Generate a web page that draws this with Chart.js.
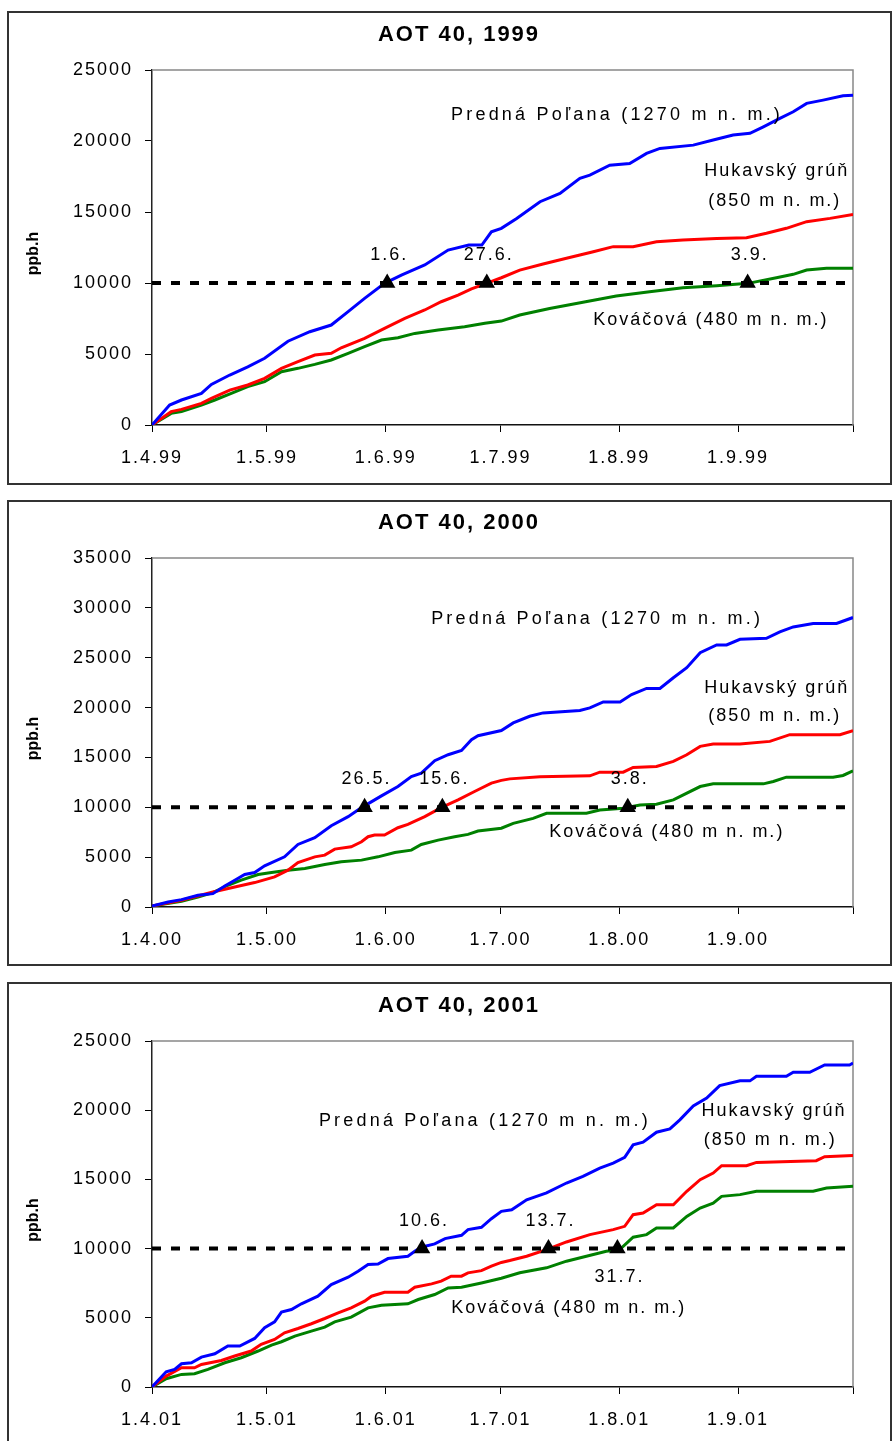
<!DOCTYPE html>
<html>
<head>
<script src="https://cdn.jsdelivr.net/npm/chart.js"></script>
<style>
  body { margin: 0; background: #fff; width: 893px; height: 1441px; overflow: hidden; position: relative; }
  .panel { position: absolute; left: 7px; width: 885px; border: 2px solid #333; box-sizing: border-box; }
  canvas { position: absolute; left: 9px; }
</style>
</head>
<body>
<div class="panel" style="top:11px;height:474px"></div>
<div class="panel" style="top:500px;height:466px"></div>
<div class="panel" style="top:982px;height:480px"></div>
<canvas id="c1999" width="882" height="469" style="top:13px"></canvas>
<canvas id="c2000" width="882" height="462" style="top:502px"></canvas>
<canvas id="c2001" width="882" height="457" style="top:984px"></canvas>

<script>
// days counted from 1 April, month starts for the x axis
const MONTH_DAYS = [0, 30, 61, 91, 122, 153, 183];
const TICKS_1999 = ['1.4.99', '1.5.99', '1.6.99', '1.7.99', '1.8.99', '1.9.99', ''];
const TICKS_2000 = ['1.4.00', '1.5.00', '1.6.00', '1.7.00', '1.8.00', '1.9.00', ''];
const TICKS_2001 = ['1.4.01', '1.5.01', '1.6.01', '1.7.01', '1.8.01', '1.9.01', ''];
const THRESHOLD = 10000;

// [day, ppb.h]
const PREDNA_1999 = [[0,0],[4.6,1400],[7.7,1760],[12.9,2230],[15.5,2860],[20.3,3520],[25,4100],[29.4,4700],[35.5,5900],[41.2,6570],[46.8,7040],[51.2,7980],[55.5,8920],[60.7,9975],[65.1,10560],[71.2,11270],[77.3,12320],[82.7,12670],[86.1,12670],[88.6,13600],[91.2,13850],[95.2,14550],[101.3,15725],[106.5,16310],[111.7,17370],[114.3,17600],[119.5,18300],[124.7,18420],[129.1,19130],[132.6,19480],[141.3,19710],[146.5,20070],[151.7,20420],[156.1,20540],[159.6,21000],[163.9,21590],[167.4,22060],[170.9,22650],[175.2,22880],[180.4,23190],[183,23230]];
const HUKAVSKY_1999 = [[0,0],[5,940],[7.7,1100],[12.9,1525],[15.5,1880],[20.3,2460],[25,2820],[29.4,3290],[33.8,3990],[38.1,4460],[42.5,4930],[46.8,5050],[49.4,5440],[55.5,6100],[60.7,6800],[66,7510],[71.2,8100],[75.5,8680],[79.9,9150],[83.4,9580],[87.3,9975],[91.2,10370],[96,10910],[102.1,11340],[108.2,11740],[115.2,12200],[120.4,12560],[125.6,12560],[131.7,12910],[138.6,13030],[147.4,13140],[155.2,13190],[160.4,13500],[165.6,13850],[170.9,14320],[177,14550],[183,14830]];
const KOVACOVA_1999 = [[0,0],[5,820],[7.7,940],[12.9,1410],[16.4,1760],[20.7,2230],[25,2700],[29.4,3050],[33.8,3755],[38.1,3990],[42.5,4270],[46.8,4580],[51.2,5050],[55.5,5515],[59.9,5985],[64.2,6150],[68.6,6450],[74.7,6690],[81.6,6920],[86.9,7160],[91.2,7320],[96,7745],[103.8,8210],[112.5,8640],[121.2,9080],[129.9,9390],[138.6,9670],[147.4,9810],[155.6,9975],[163,10370],[167.4,10610],[170.9,10910],[176.1,11030],[183,11030]];

const PREDNA_2000 = [[0,100],[4.2,500],[7.7,740],[12,1175],[15.9,1340],[19,2110],[21.6,2685],[24.2,3255],[26.8,3460],[29.4,4130],[34.6,5030],[38.1,6275],[42.5,6950],[46.8,8155],[51.2,9060],[54.7,9970],[59.9,11140],[64.2,12080],[67.7,13090],[70.3,13420],[73.8,14670],[77.3,15270],[80.8,15700],[83.4,16780],[85.1,17180],[91.2,17700],[94.3,18460],[98.6,19130],[102.1,19465],[111.7,19700],[114.3,19970],[117.8,20570],[122.2,20570],[125.2,21310],[129.1,21915],[132.6,21915],[136.1,22990],[139.6,24000],[143.1,25500],[147.4,26280],[150,26280],[153.5,26850],[160.4,26950],[163.9,27590],[167.4,28090],[172.6,28430],[178.7,28430],[183,29030]];
const HUKAVSKY_2000 = [[0,100],[7.7,670],[15.9,1510],[21.6,2010],[26.8,2450],[32,3020],[35.5,3690],[38.1,4460],[42.5,5030],[45.1,5200],[47.7,5805],[52,6040],[54.7,6545],[56.4,7050],[58.1,7215],[60.7,7215],[64.2,7950],[66.8,8290],[71.2,9060],[75.5,9970],[79.9,10740],[84.2,11580],[88.6,12420],[91.2,12700],[93.4,12850],[101.3,13050],[114.3,13155],[116.9,13525],[123,13525],[125.6,14000],[131.7,14100],[136.1,14600],[139.6,15270],[143.1,16110],[146.5,16340],[153.5,16340],[161.3,16610],[166.5,17280],[179.6,17280],[183,17690]];
const KOVACOVA_2000 = [[0,100],[7.7,570],[12,1000],[15.9,1440],[19.8,2180],[23.3,2690],[27.7,3255],[31.2,3460],[35.5,3690],[39.9,3860],[45.1,4260],[49.4,4530],[54.7,4700],[59,5030],[63.4,5470],[67.7,5700],[70.3,6275],[74.7,6710],[79,7050],[82.5,7280],[85.1,7620],[91.2,7900],[94.3,8390],[99.5,8890],[103,9400],[113.4,9400],[116.9,9730],[123,9900],[127.4,10235],[131.7,10300],[136.1,10740],[143.1,12080],[146.5,12350],[159.6,12350],[162.2,12585],[165.6,13020],[177.8,13020],[180.4,13190],[183,13660]];

const PREDNA_2001 = [[0,0],[3.7,1100],[5.9,1270],[7.7,1680],[10.3,1750],[12.9,2160],[16.4,2400],[19.8,2960],[22.9,2960],[26.8,3510],[29.4,4280],[32,4710],[33.8,5410],[36.4,5600],[39,6010],[43.3,6560],[46.8,7400],[51.2,7930],[53.8,8370],[56.4,8850],[59,8890],[61.6,9280],[66.8,9450],[68.6,9800],[70.3,10100],[73.8,10340],[76.5,10720],[80.8,10960],[82.5,11370],[86,11540],[88.6,12160],[91.2,12690],[93.9,12810],[97.8,13530],[103,14020],[108.2,14740],[112.5,15220],[116.9,15820],[120.4,16180],[123.4,16590],[125.6,17500],[128.2,17690],[131.7,18410],[135.2,18650],[137.8,19300],[141.3,20310],[144.8,20870],[148.2,21780],[153.5,22120],[156.1,22120],[157.8,22450],[165.6,22450],[167.4,22740],[171.7,22740],[175.6,23270],[182.1,23270],[183,23410]];
const HUKAVSKY_2001 = [[0,0],[3.7,790],[7.7,1390],[11.1,1390],[12.9,1630],[18.1,1920],[21.6,2240],[25.9,2600],[28.5,3080],[32,3440],[34.6,3920],[38.1,4230],[41.6,4570],[45.1,4950],[48.6,5360],[52,5720],[55.5,6200],[57.3,6560],[60.7,6850],[66.8,6850],[68.6,7210],[73,7450],[75.5,7650],[78.1,8010],[80.8,8010],[82.5,8250],[86,8410],[88.6,8730],[91.2,9000],[93.4,9140],[97.8,9450],[103,9930],[108.2,10480],[114.3,11010],[120.4,11370],[123.4,11610],[125.6,12450],[128.2,12570],[131.7,13170],[136.1,13170],[139.6,14140],[143.1,14980],[146.5,15460],[148.7,15990],[155.2,15990],[157.8,16230],[173.4,16350],[175.6,16640],[183,16730]];
const KOVACOVA_2001 = [[0,0],[3.7,600],[7.7,910],[11.1,960],[14.6,1270],[19,1750],[23.3,2115],[27.7,2600],[31.2,3030],[33.8,3270],[37.3,3680],[41.6,4040],[45.1,4330],[47.7,4710],[52,5050],[56.4,5720],[59.9,5910],[66.8,6010],[69.5,6320],[73.8,6680],[77.3,7160],[80.8,7210],[86,7520],[91.2,7860],[96,8250],[103,8610],[108.2,9090],[113.4,9450],[118.6,9810],[122.1,9930],[125.6,10820],[129.1,11010],[131.7,11490],[136.1,11490],[139.6,12330],[143.1,12930],[146.5,13290],[148.7,13775],[153.5,13900],[157.8,14140],[172.6,14140],[176.1,14380],[183,14500]];

// days when AOT40 reached 10000 ppb.h
const CROSS_DAYS_1999 = [61.4, 87.4, 155.5];
const CROSS_TEXT_1999 = ['1.6.', '27.6.', '3.9.'];
const CROSS_DAYS_2000 = [55.5, 75.8, 124.2];
const CROSS_TEXT_2000 = ['26.5.', '15.6.', '3.8.'];
const CROSS_DAYS_2001 = [70.5, 103.5, 121.5];
const CROSS_TEXT_2001 = ['10.6.', '13.7.', '31.7.'];

const STATIONS = ['Predná Poľana (1270 m n. m.)', 'Hukavský grúň', '(850 m n. m.)', 'Kováčová (480 m n. m.)'];
const STATION_SPACING = ['3.2px', '2px', '2px', '2px'];

const FONT = '"Liberation Sans", Arial, sans-serif';

// frame, title, axis name, crossing labels and station names
const decor = {
  id: 'decor',
  beforeDraw(chart) {
    chart.ctx.letterSpacing = '2px';
  },
  beforeDatasetsDraw(chart) {
    const { ctx, chartArea: a } = chart;
    ctx.save();
    ctx.strokeStyle = '#888';
    ctx.lineWidth = 1.5;
    ctx.beginPath();
    ctx.moveTo(a.left, a.top);
    ctx.lineTo(a.right, a.top);
    ctx.lineTo(a.right, a.bottom);
    ctx.stroke();
    ctx.restore();
  },
  afterDatasetsDraw(chart, args, opts) {
    const { ctx, scales, chartArea: a } = chart;
    ctx.save();
    ctx.fillStyle = '#000';
    ctx.textAlign = 'center';
    ctx.textBaseline = 'middle';

    ctx.letterSpacing = '2px';
    ctx.font = 'bold 22px ' + FONT;
    ctx.fillText(opts.title, 450, opts.titleY);

    ctx.font = '18px ' + FONT;
    const pts = chart.getDatasetMeta(0).data;
    opts.crossText.forEach((t, i) => {
      const p = pts[i];
      const dy = opts.below[i] ? 28 : -28;
      ctx.fillText(t, p.x + 2, p.y + dy);
    });
    opts.places.forEach((pl, i) => {
      ctx.letterSpacing = STATION_SPACING[i];
      ctx.fillText(STATIONS[i], scales.x.getPixelForValue(pl[0]), scales.y.getPixelForValue(pl[1]));
    });

    ctx.letterSpacing = '0px';
    ctx.font = 'bold 16px ' + FONT;
    ctx.translate(25, (a.top + a.bottom) / 2 + 6);
    ctx.rotate(-Math.PI / 2);
    ctx.fillText('ppb.h', 0, 0);
    ctx.restore();
  }
};

function makePanel(id, ticks, yMax, predna, hukavsky, kovacova, crossDays, crossText, below, places, plotTop, xAxisH, title, titleY) {
  const toXY = arr => arr.map(p => ({ x: p[0], y: p[1] }));
  new Chart(document.getElementById(id), {
    type: 'line',
    data: {
      datasets: [
        { data: crossDays.map(d => ({ x: d, y: THRESHOLD })), showLine: false, pointStyle: 'triangle',
          pointRadius: 9.5, backgroundColor: '#000', borderColor: '#000', borderWidth: 0 },
        { data: [{ x: 0, y: THRESHOLD }, { x: 183, y: THRESHOLD }], borderColor: '#000', borderWidth: 4,
          borderDash: [9, 10], pointRadius: 0 },
        { data: toXY(predna), borderColor: '#0000ff', borderWidth: 3, pointRadius: 0, tension: 0 },
        { data: toXY(hukavsky), borderColor: '#ff0000', borderWidth: 3, pointRadius: 0, tension: 0 },
        { data: toXY(kovacova), borderColor: '#008000', borderWidth: 3, pointRadius: 0, tension: 0 }
      ]
    },
    options: {
      responsive: false,
      animation: false,
      layout: { padding: { left: 0, right: 38, top: plotTop, bottom: 0 } },
      plugins: {
        legend: { display: false },
        tooltip: { enabled: false },
        title: { display: false },
        decor: { title: title, titleY: titleY, crossText: crossText, below: below, places: places }
      },
      scales: {
        x: {
          type: 'linear', min: 0, max: 183,
          afterBuildTicks: axis => { axis.ticks = MONTH_DAYS.map(v => ({ value: v })); },
          afterFit: axis => { axis.height = xAxisH; },
          ticks: { autoSkip: false, maxRotation: 0, padding: 15, color: '#000',
                   font: { family: FONT, size: 18 }, callback: (v, i) => ticks[i] },
          grid: { drawOnChartArea: false, tickLength: 7, color: '#000' },
          border: { color: '#111', width: 1.5 }
        },
        y: {
          min: 0, max: yMax,
          afterFit: axis => { axis.width = 143; },
          ticks: { stepSize: 5000, padding: 12, color: '#000', font: { family: FONT, size: 18 },
                   callback: v => String(v) },
          grid: { drawOnChartArea: false, tickLength: 7, color: '#000' },
          border: { color: '#222', width: 1.5 }
        }
      }
    },
    plugins: [decor]
  });
}

makePanel('c1999', TICKS_1999, 25000, PREDNA_1999, HUKAVSKY_1999, KOVACOVA_1999,
  CROSS_DAYS_1999, CROSS_TEXT_1999, [false, false, false],
  [[121.4, 21830], [163.1, 17890], [162.6, 15770], [145.9, 7390]], 57, 57, 'AOT 40, 1999', 22);
makePanel('c2000', TICKS_2000, 35000, PREDNA_2000, HUKAVSKY_2000, KOVACOVA_2000,
  CROSS_DAYS_2000, CROSS_TEXT_2000, [false, false, false],
  [[116.2, 28880], [163.1, 21960], [162.6, 19155], [134.4, 7520]], 56, 57, 'AOT 40, 2000', 21);
makePanel('c2001', TICKS_2001, 25000, PREDNA_2001, HUKAVSKY_2001, KOVACOVA_2001,
  CROSS_DAYS_2001, CROSS_TEXT_2001, [false, false, true],
  [[86.9, 19220], [162.4, 19940], [161.4, 17845], [108.8, 5710]], 57, 54, 'AOT 40, 2001', 22);
</script>
</body>
</html>
